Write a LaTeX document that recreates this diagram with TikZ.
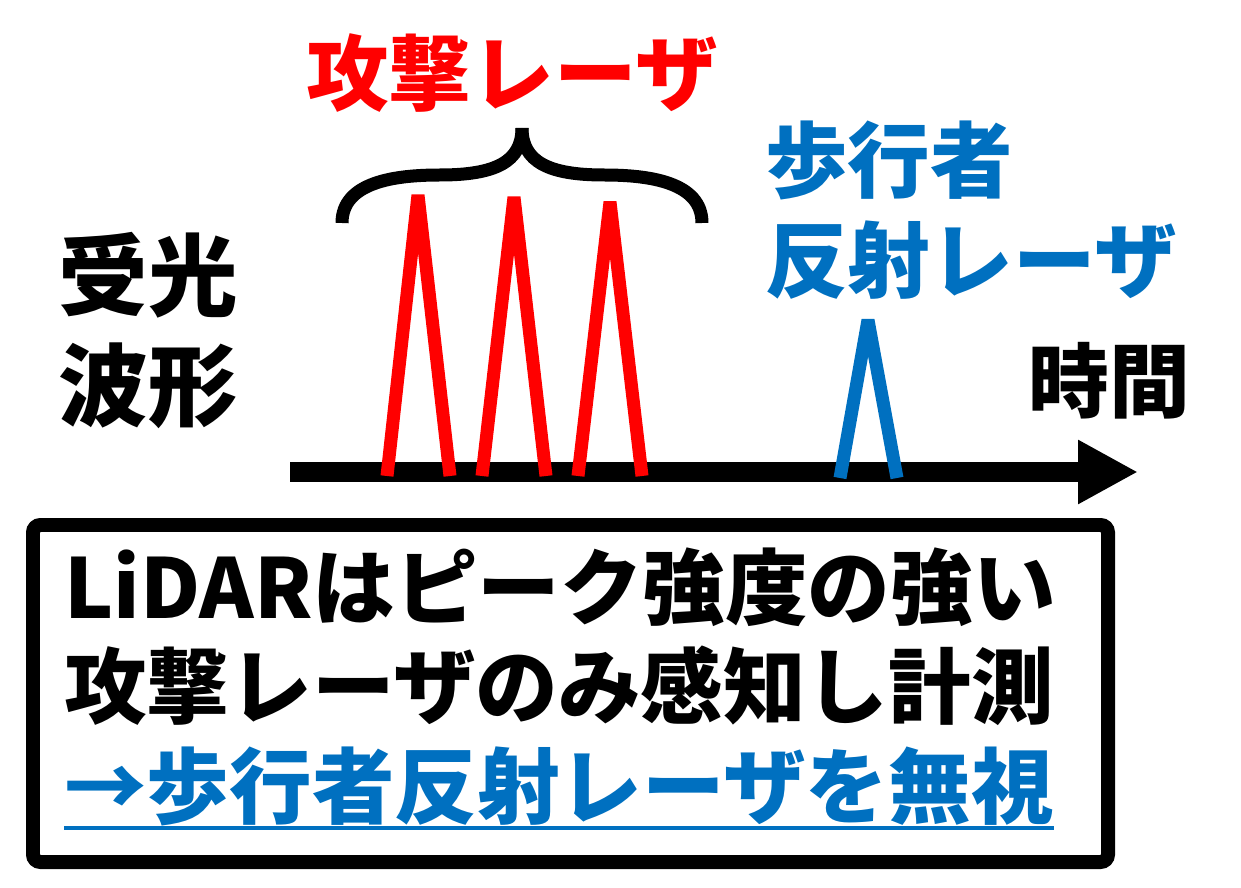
\documentclass[tikz,border=0pt]{standalone}
\usepackage{fontspec}
\setmainfont{Noto Sans CJK JP}
\usepackage{xcolor}
\usetikzlibrary{arrows.meta,calc}
\definecolor{laserred}{HTML}{FF0000}
\definecolor{pedblue}{HTML}{0070C0}

\begin{document}
\begin{tikzpicture}[
  x=0.02cm, y=-0.02cm,
  peak/.style={line width=0.26cm,line join=bevel},
  brace/.style={line width=0.26cm},
  lbl/.style={inner sep=0pt,font=\bfseries\fontsize{47}{57}\selectfont},
  boxline/.style={inner sep=0pt,anchor=west,font=\bfseries\fontsize{47}{56}\selectfont}
]
\useasboundingbox (0,0) rectangle (1241,888);
% labels
\node[lbl,laserred] (atk) at (512,73) {攻撃レーザ};
\node[lbl,align=center,font=\bfseries\fontsize{51}{62.6}\selectfont] (rx) at (148,331) {受光\\波形};
\node[lbl,pedblue,align=left,anchor=west] (ped) at (765,210) {歩行者\\反射レーザ};
\node[lbl,font=\bfseries\fontsize{46}{56}\selectfont] (tm) at (1109,381) {時間};
% time axis
\coordinate (t0) at (290,472);
\coordinate (t1) at (1138,472);
\draw[line width=0.4cm,-{Triangle[length=1.2cm,width=1.2cm]}] (t0) -- (t1);
% attack pulses
\foreach \l/\t/\r/\h in {387/418/450/195,482/514/546/197,578/610/642/202}
  \draw[peak,laserred] (\l,476) -- (\t,\h) -- (\r,476);
% pedestrian pulse
\draw[peak,pedblue] (840,478) -- (868,320) -- (897,478);
% brace over attack pulses
\draw[brace] (342,223) .. controls (342,182) and (395,175) .. (440,175)
  .. controls (495,175) and (522,162) .. (522,128);
\draw[brace] (702,223) .. controls (702,182) and (649,175) .. (604,175)
  .. controls (549,175) and (522,162) .. (522,128);
% message box
\draw[line width=0.28cm,rounded corners=0.15cm] (33,525) rectangle (1108,862);
\node[boxline] (l1) at (64,587) {LiDARはピーク強度の強い};
\node[boxline] (l2) at (64,686) {攻撃レーザのみ感知し計測};
\node[boxline,pedblue] (l3) at (64,786) {→歩行者反射レーザを無視};
\draw[pedblue,line width=0.07cm] (l3.west |- 0,828) -- (l3.east |- 0,828);
\end{tikzpicture}
\end{document}
